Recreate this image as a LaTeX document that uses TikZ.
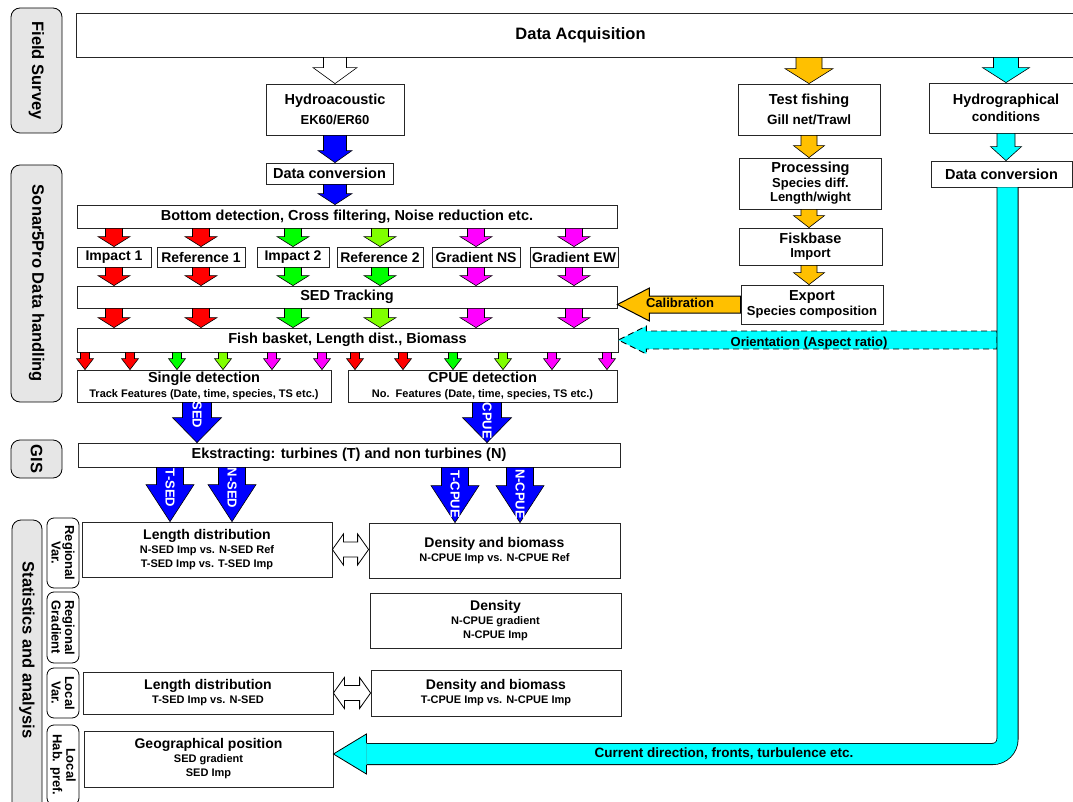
\documentclass[tikz,border=0pt]{standalone}
\usepackage{fontspec}
\setmainfont{Liberation Sans}
\usetikzlibrary{calc}
\definecolor{arrred}{RGB}{255,0,0}
\definecolor{arrgreen}{RGB}{0,255,0}
\definecolor{arrlime}{RGB}{128,255,0}
\definecolor{arrmag}{RGB}{255,0,255}
\definecolor{arrblue}{RGB}{0,0,255}
\definecolor{fishorange}{RGB}{255,192,0}
\definecolor{hydrocyan}{RGB}{0,255,255}
\definecolor{labelgray}{RGB}{230,230,230}

\newcommand{\fsz}[1]{\fontsize{#1}{#1}\selectfont}

% block arrow down: colour, top, tip, shaft half width, head half width, head length
\newcommand{\blockdown}[6]{%
  \filldraw[fill=#1,draw=black,line width=0.6pt] let \p1=(#2), \p2=(#3) in
    (\x1-#4pt,\y1) -- (\x1+#4pt,\y1) -- (\x1+#4pt,\y2+#6pt) -- (\x1+#5pt,\y2+#6pt)
    -- (\x1,\y2) -- (\x1-#5pt,\y2+#6pt) -- (\x1-#4pt,\y2+#6pt) -- cycle;}
% block arrow left: style, start, tip, shaft half width, head half width, head length
\newcommand{\blockleft}[6]{%
  \path[#1] let \p1=(#2), \p2=(#3) in
    (\x1,\y1+#4pt) -- (\x2+#6pt,\y1+#4pt) -- (\x2+#6pt,\y1+#5pt) -- (\x2,\y1)
    -- (\x2+#6pt,\y1-#5pt) -- (\x2+#6pt,\y1-#4pt) -- (\x1,\y1-#4pt) -- cycle;}
% white double arrow: start, end, shaft half width, head half width, head length
\newcommand{\blockboth}[5]{%
  \filldraw[fill=white,draw=black,line width=0.8pt] let \p1=(#1), \p2=(#2) in
    (\x1,\y1) -- (\x1+#5pt,\y1+#4pt) -- (\x1+#5pt,\y1+#3pt) -- (\x2-#5pt,\y1+#3pt)
    -- (\x2-#5pt,\y1+#4pt) -- (\x2,\y1) -- (\x2-#5pt,\y1-#4pt) -- (\x2-#5pt,\y1-#3pt)
    -- (\x1+#5pt,\y1-#3pt) -- (\x1+#5pt,\y1-#4pt) -- cycle;}

\begin{document}
\begin{tikzpicture}[x=1pt,y=-1pt,
  box/.style={draw=black!85,line width=0.8pt,fill=white,inner sep=0pt,align=center,font=\bfseries\fsz{14.5}},
  sidelab/.style={draw=black,line width=0.8pt,fill=labelgray,rounded corners=9pt,rotate=-90,inner sep=0pt,minimum height=51pt,font=\bfseries\fsz{16.5}},
  sublab/.style={draw=black,line width=0.8pt,fill=white,rounded corners=7pt,rotate=-90,inner sep=0pt,align=center,minimum height=32pt,font=\bfseries\fontsize{13}{13.5}\selectfont},
  arrtext/.style={white,rotate=-90,inner sep=0pt,font=\bfseries\fsz{13}},
  flowtext/.style={inner sep=0pt,font=\bfseries\fsz{13}}]

\useasboundingbox (0,0) rectangle (1073,802);
\clip (0,0) rectangle (1073,802);

% Side labels
\node[sidelab,minimum width=125pt] (survey) at (36.5,70.5) {Field Survey};
\node[sidelab,minimum width=237pt] (sonar) at (36.5,283.5) {Sonar5Pro Data handling};
\node[sidelab,minimum width=38pt] (gislab) at (36.5,459) {GIS};
\draw[line width=0.8pt,fill=labelgray,rounded corners=9pt] (12,520) rectangle (42,830);
\node[rotate=-90,inner sep=0pt,font=\bfseries\fsz{16.5}] (stat) at (27,650) {Statistics and analysis};
\node[sublab,minimum width=70pt] (regvar) at (63,553) {Regional\\Var.};
\node[sublab,minimum width=71pt] (reggrad) at (63,627.5) {Regional\\Gradient};
\node[sublab,minimum width=50pt] (locvar) at (63,693) {Local\\Var.};
\node[sublab,minimum width=80pt] (lochab) at (63,765) {Local\\Hab. pref.};

% Field survey
\node[box,minimum width=1009pt,minimum height=44pt,font=\bfseries\fsz{16.5}] (acq) at (580.5,35) {Data Acquisition};
\node[box,minimum width=138pt,minimum height=51pt] (hydro) at (335,109.5) {Hydroacoustic\\[6pt]\fsz{13}EK60/ER60};
\node[box,minimum width=142pt,minimum height=51pt] (testf) at (809,109.5) {Test fishing\\[5pt]\fsz{13.5}Gill net/Trawl};
\node[box,minimum width=154pt,minimum height=50pt] (hydrog) at (1006,108) {Hydrographical\\[2pt]\fsz{13.5}conditions};

% Sonar5Pro
\node[box,minimum width=127pt,minimum height=21pt] (dconv) at (329.5,173.5) {Data conversion};
\node[box,minimum width=540pt,minimum height=23pt] (bdet) at (347,216.5) {Bottom detection, Cross filtering, Noise reduction etc.};
\node[box,minimum width=74pt,minimum height=20pt,font=\bfseries\fsz{14}] (imp1) at (114,257) {Impact 1};
\node[box,minimum width=88pt,minimum height=20pt,font=\bfseries\fsz{14}] (ref1) at (201,257) {Reference 1};
\node[box,minimum width=72pt,minimum height=20pt,font=\bfseries\fsz{14}] (imp2) at (293,257) {Impact 2};
\node[box,minimum width=86pt,minimum height=20pt,font=\bfseries\fsz{14}] (ref2) at (380,257) {Reference 2};
\node[box,minimum width=88pt,minimum height=20pt,font=\bfseries\fsz{14}] (gns) at (476,257) {Gradient NS};
\node[box,minimum width=88pt,minimum height=20pt,font=\bfseries\fsz{14}] (gew) at (574,257) {Gradient EW};
\node[box,minimum width=540pt,minimum height=22pt] (sed) at (347,297) {SED Tracking};
\node[box,minimum width=541pt,minimum height=24pt] (fish) at (347.5,340) {Fish basket, Length dist., Biomass};
\node[box,minimum width=254pt,minimum height=32pt] (sdet) at (204,386) {Single detection\\[1pt]\fsz{11}Track Features (Date, time, species, TS etc.)};
\node[box,minimum width=269pt,minimum height=32pt] (cpue) at (482.5,386) {CPUE detection\\[1pt]\fsz{11}No.\ \ Features (Date, time, species, TS etc.)};
\node[box,minimum width=142pt,minimum height=51pt] (proc) at (810.5,183.5) {Processing\\\fsz{13}Species diff.\\\fsz{13}Length/wight};
\node[box,minimum width=143pt,minimum height=37pt] (fisk) at (810.5,246.5) {Fiskbase\\\fsz{13}Import};
\node[box,minimum width=142pt,minimum height=39pt] (export) at (812,304.5) {Export\\\fsz{13}Species composition};
\node[box,minimum width=141pt,minimum height=26pt] (dconv2) at (1001.5,174) {Data conversion};

% GIS
\node[box,minimum width=542pt,minimum height=24pt] (gis) at (349,455) {Ekstracting: turbines (T) and non turbines (N)};

% Statistics
\node[box,minimum width=250pt,minimum height=55pt,font=\bfseries\fsz{14}] (ld1) at (207,549.5) {Length distribution\\\fsz{11}N-SED Imp vs. N-SED Ref\\\fsz{11}T-SED Imp vs. T-SED Imp};
\node[box,minimum width=251pt,minimum height=55pt,font=\bfseries\fsz{14}] (db1) at (494.5,550.5) {Density and biomass\\\fsz{11}N-CPUE Imp vs. N-CPUE Ref};
\node[box,minimum width=251pt,minimum height=55pt,font=\bfseries\fsz{14}] (dens) at (495.5,620.5) {Density\\\fsz{11}N-CPUE gradient\\\fsz{11}N-CPUE Imp};
\node[box,minimum width=250pt,minimum height=42pt,font=\bfseries\fsz{14}] (ld2) at (208,693) {Length distribution\\\fsz{11}T-SED Imp vs. N-SED};
\node[box,minimum width=250pt,minimum height=46pt,font=\bfseries\fsz{14}] (db2) at (496,693) {Density and biomass\\\fsz{11}T-CPUE Imp vs. N-CPUE Imp};
\node[box,minimum width=249pt,minimum height=56pt,font=\bfseries\fsz{14}] (geo) at (208.5,759) {Geographical position\\\fsz{11}SED gradient\\\fsz{11}SED Imp};

% Arrows from data acquisition
\blockdown{white}{hydro |- acq.south}{hydro.north}{11.5}{22}{16}
\blockdown{fishorange}{testf |- acq.south}{testf.north}{13}{24}{15}
\blockdown{hydrocyan}{hydrog |- acq.south}{hydrog.north}{12.5}{23.5}{15}

% Hydroacoustic chain
\blockdown{arrblue}{hydro.south}{hydro |- dconv.north}{11.5}{17}{12}
\blockdown{arrblue}{hydro |- dconv.south}{hydro |- bdet.north}{11.5}{17}{11}
\foreach \bx/\cc in {imp1/arrred,ref1/arrred,imp2/arrgreen,ref2/arrlime,gns/arrmag,gew/arrmag}
  \blockdown{\cc}{\bx |- bdet.south}{\bx.north}{8.5}{16}{10};
\foreach \bx/\cc in {imp1/arrred,ref1/arrred,imp2/arrgreen,ref2/arrgreen,gns/arrmag,gew/arrmag}
  \blockdown{\cc}{\bx.south}{\bx |- sed.north}{8.5}{16}{10};
\foreach \bx/\cc in {imp1/arrred,ref1/arrred,imp2/arrgreen,ref2/arrlime,gns/arrmag,gew/arrmag}
  \blockdown{\cc}{\bx |- sed.south}{\bx |- fish.north}{8.5}{16}{10};
\foreach \xx/\cc in {85/arrred,130/arrred,177/arrgreen,223/arrlime,272/arrmag,322/arrmag,355/arrred,403/arrred,453/arrgreen,503/arrlime,552/arrmag,607/arrmag}
  \blockdown{\cc}{\xx,0 |- fish.south}{\xx,0 |- sdet.north}{4.5}{8.5}{11};

% Blue arrows to GIS and statistics
\blockdown{arrblue}{197,0 |- sdet.south}{197,0 |- gis.north}{14.5}{24.5}{25}
\blockdown{arrblue}{487,0 |- cpue.south}{487,0 |- gis.north}{14.5}{24.5}{25}
\blockdown{arrblue}{170,0 |- gis.south}{170,0 |- ld1.north}{13.5}{24}{37}
\blockdown{arrblue}{232,0 |- gis.south}{232,0 |- ld1.north}{13.5}{24}{37}
\blockdown{arrblue}{455,0 |- gis.south}{455,0 |- db1.north}{13.5}{24}{37}
\blockdown{arrblue}{520,0 |- gis.south}{520,0 |- db1.north}{13.5}{24}{37}
\node[arrtext] (sedtxt) at (197,415) {SED};
\node[arrtext] (cpuetxt) at (487,421) {CPUE};
\node[arrtext] (tsedtxt) at (170,488) {T-SED};
\node[arrtext] (nsedtxt) at (232,488) {N-SED};
\node[arrtext] (tcpuetxt) at (455,494) {T-CPUE};
\node[arrtext] (ncpuetxt) at (520,494) {N-CPUE};

% Comparisons
\blockboth{ld1.east}{db1.west}{7.5}{15.5}{11}
\blockboth{ld2.east}{db2.west}{7.5}{15.5}{11}

% Test fishing chain
\blockdown{fishorange}{testf.south}{testf |- proc.north}{8}{15.5}{12}
\blockdown{fishorange}{testf |- proc.south}{testf |- fisk.north}{8}{15.5}{12}
\blockdown{fishorange}{testf |- fisk.south}{testf |- export.north}{8}{15.5}{12}
\blockleft{fill=fishorange,draw=black,line width=1pt}{export.west}{sed.east |- export.west}{8.5}{16.5}{32}
\node[flowtext] (calib) at (680,303) {Calibration};

% Hydrographical chain
\blockdown{hydrocyan}{hydrog.south}{hydrog |- dconv2.north}{9}{15.5}{14}
\blockleft{fill=hydrocyan,draw=black,dashed,dash pattern=on 6pt off 4pt,line width=0.9pt}{997,0 |- fish.east}{fish.east}{9}{14}{28}
\node[flowtext] (orient) at (809,343) {Orientation (Aspect ratio)};
\coordinate (curtip) at ($(geo.east)+(0,-5)$);
\coordinate (curbase) at ($(curtip)+(33,0)$);
\draw[line width=22pt,rounded corners=15pt] (1007.5,0 |- dconv2.south) -- (1007.5,0 |- curtip) -- (curbase);
\draw[hydrocyan,line width=20.4pt,rounded corners=15pt] (1007.5,0 |- dconv2.south) -- (1007.5,0 |- curtip) -- (curbase);
\filldraw[fill=hydrocyan,draw=black,line width=0.8pt] let \p1=(curbase), \p2=(curtip) in
  (\x1,\y1+11pt) -- (\x1,\y1+20pt) -- (\x2,\y2) -- (\x1,\y1-20pt) -- (\x1,\y1-11pt);
\node[flowtext,font=\bfseries\fsz{13.5}] (current) at (724,754) {Current direction, fronts, turbulence etc.};

\end{tikzpicture}
\end{document}
